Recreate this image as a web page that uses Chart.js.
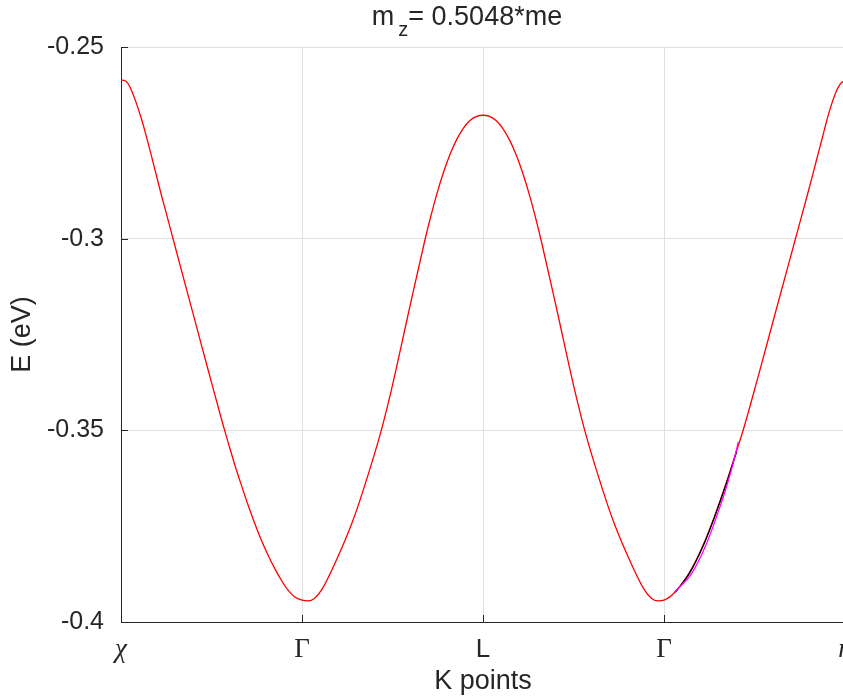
<!DOCTYPE html>
<html>
<head>
<meta charset="utf-8">
<title>Band structure</title>
<script src="https://cdn.jsdelivr.net/npm/chart.js@4.4.1/dist/chart.umd.min.js"></script>
<style>
  html, body { margin: 0; padding: 0; background: #fff; overflow: hidden; }
  #wrap { width: 843px; height: 700px; overflow: hidden; }
  canvas { display: block; }
</style>
</head>
<body>
<div id="wrap"><canvas id="bands" width="850" height="700"></canvas></div>
<script>
// Band along chi - Gamma - L - Gamma - eta, with effective mass fits near Gamma

const kTicks = [0, 1, 2, 3, 4];
const kLabels = ['χ', 'Γ', 'L', 'Γ', 'η'];
const yTicks = [-0.4, -0.35, -0.3, -0.25];

// red band
const bandK = [
  0.000, 0.029, 0.057, 0.085, 0.112, 0.140, 0.167, 0.195, 0.223, 0.260, 0.293, 0.400, 0.480,
  0.564, 0.591, 0.628, 0.665, 0.702, 0.739, 0.775, 0.812, 0.849, 0.886, 0.923, 0.958, 1.000,
  1.033, 1.070, 1.110, 1.184, 1.276, 1.341, 1.438, 1.500, 1.590, 1.676, 1.707, 1.744, 1.781,
  1.818, 1.855, 1.891, 1.928, 1.965, 2.000, 2.035, 2.072, 2.109, 2.145, 2.182, 2.219, 2.256,
  2.293, 2.324, 2.410, 2.500, 2.562, 2.659, 2.724, 2.816, 2.890, 2.930, 2.967, 3.000, 3.063,
  3.142, 3.216, 3.281, 3.342, 3.401, 3.441, 3.520, 3.600, 3.727, 3.792, 3.820, 3.847, 3.873,
  3.898, 3.922, 3.947, 3.973, 4.000
];
const bandE = [
  -0.2586, -0.2590, -0.2612, -0.2647, -0.2686, -0.2733, -0.2782, -0.2834, -0.2886, -0.2951, -0.3010, -0.3199, -0.3340,
  -0.3486, -0.3530, -0.3589, -0.3643, -0.3695, -0.3743, -0.3786, -0.3825, -0.3860, -0.3891, -0.3917, -0.3934, -0.3943,
  -0.3945, -0.3938, -0.3915, -0.3845, -0.3742, -0.3652, -0.3500, -0.3382, -0.3190, -0.3010, -0.2950, -0.2885, -0.2828,
  -0.2780, -0.2741, -0.2712, -0.2692, -0.2681, -0.2678, -0.2681, -0.2692, -0.2712, -0.2741, -0.2780, -0.2828, -0.2885,
  -0.2950, -0.3010, -0.3190, -0.3382, -0.3500, -0.3652, -0.3742, -0.3845, -0.3915, -0.3938, -0.3945, -0.3943, -0.3921,
  -0.3870, -0.3800, -0.3722, -0.3640, -0.3554, -0.3494, -0.3360, -0.3220, -0.2999, -0.2886, -0.2836, -0.2787, -0.2740,
  -0.2694, -0.2655, -0.2621, -0.2597, -0.2586
];

// black fit
const fitBlackK = [3.063, 3.142, 3.216, 3.281, 3.342, 3.401];
const fitBlackE = [-0.3922, -0.3872, -0.3802, -0.3724, -0.3642, -0.3556];

// magenta fit
const fitMagK = [3.058, 3.152, 3.231, 3.296, 3.347, 3.393, 3.410];
const fitMagE = [-0.3922, -0.3874, -0.3800, -0.3718, -0.3645, -0.3566, -0.3530];

const ink = '#262626';
Chart.defaults.font.family = '"Liberation Sans", Arial, sans-serif';
Chart.defaults.color = ink;

function toPoints(xs, ys) {
  return xs.map((x, i) => ({ x: x, y: ys[i] }));
}

// tick marks inside the axes, k-point labels and the title
const overlayText = {
  id: 'overlayText',
  afterDraw(chart) {
    const ctx = chart.ctx;
    const xs = chart.scales.x;
    const ys = chart.scales.y;
    const area = chart.chartArea;
    ctx.save();
    ctx.strokeStyle = ink;
    ctx.fillStyle = ink;
    ctx.lineWidth = 1;
    ctx.beginPath();
    kTicks.forEach(v => {
      const px = Math.round(xs.getPixelForValue(v)) + 0.5;
      ctx.moveTo(px, area.bottom);
      ctx.lineTo(px, area.bottom - 7);
    });
    yTicks.forEach(v => {
      const py = Math.round(ys.getPixelForValue(v)) + 0.5;
      ctx.moveTo(area.left, py);
      ctx.lineTo(area.left + 7, py);
    });
    ctx.stroke();

    ctx.textAlign = 'center';
    ctx.textBaseline = 'alphabetic';
    kLabels.forEach((lab, i) => {
      if (lab === 'L') ctx.font = '26px "Liberation Sans", Arial, sans-serif';
      else if (lab === 'Γ') ctx.font = '27px "Liberation Serif", "DejaVu Serif", serif';
      else ctx.font = 'italic 27px "Liberation Serif", "DejaVu Serif", serif';
      ctx.fillText(lab, xs.getPixelForValue(kTicks[i]), 657);
    });

    // title: m_z= 0.5048*me
    const parts = [
      { t: 'm', font: '27px "Liberation Sans", Arial, sans-serif', dy: 0, gap: 0 },
      { t: 'z', font: '20px "Liberation Sans", Arial, sans-serif', dy: 11, gap: 4 },
      { t: '= 0.5048*me', font: '27px "Liberation Sans", Arial, sans-serif', dy: 0, gap: 0 }
    ];
    let total = 0;
    parts.forEach(p => { ctx.font = p.font; p.w = ctx.measureText(p.t).width; total += p.gap + p.w; });
    let x = 467 - total / 2;
    ctx.textAlign = 'left';
    parts.forEach(p => {
      x += p.gap;
      ctx.font = p.font;
      ctx.fillText(p.t, x, 25 + p.dy);
      x += p.w;
    });
    ctx.restore();
  }
};

new Chart(document.getElementById('bands'), {
  type: 'line',
  data: {
    datasets: [
      {
        label: 'band',
        data: toPoints(bandK, bandE),
        borderColor: '#ff0000',
        borderWidth: 1.3,
        pointRadius: 0,
        cubicInterpolationMode: 'monotone',
        order: 3
      },
      {
        label: 'fit 1',
        data: toPoints(fitBlackK, fitBlackE),
        borderColor: '#000000',
        borderWidth: 1.3,
        pointRadius: 0,
        cubicInterpolationMode: 'monotone',
        order: 2
      },
      {
        label: 'fit 2',
        data: toPoints(fitMagK, fitMagE),
        borderColor: '#ff00ff',
        borderWidth: 1.3,
        pointRadius: 0,
        cubicInterpolationMode: 'monotone',
        order: 1
      }
    ]
  },
  options: {
    responsive: false,
    animation: false,
    layout: { padding: { top: 47, right: 5, bottom: 0, left: 0 } },
    plugins: {
      legend: { display: false },
      tooltip: { enabled: false },
      title: { display: false }
    },
    scales: {
      x: {
        type: 'linear',
        min: 0,
        max: 4,
        afterBuildTicks: scale => { scale.ticks = kTicks.map(v => ({ value: v })); },
        afterFit: scale => { scale.height = 78; },
        ticks: { display: false },
        grid: { color: '#dfdfdf', drawTicks: false },
        border: { color: ink, width: 1 },
        title: {
          display: true,
          text: 'K points',
          font: { size: 27 },
          color: ink,
          padding: { top: 0, bottom: 2 }
        }
      },
      y: {
        min: -0.4,
        max: -0.25,
        afterBuildTicks: scale => { scale.ticks = yTicks.map(v => ({ value: v })); },
        afterFit: scale => { scale.width = 121; },
        ticks: {
          font: { size: 25 },
          color: ink,
          padding: 17,
          callback: v => String(+v.toFixed(2))
        },
        grid: { color: '#dfdfdf', drawTicks: false },
        border: { color: ink, width: 1 },
        title: {
          display: true,
          text: 'E (eV)',
          font: { size: 27 },
          color: ink,
          padding: { top: 6, bottom: 0 }
        }
      }
    }
  },
  plugins: [overlayText]
});
</script>
</body>
</html>
